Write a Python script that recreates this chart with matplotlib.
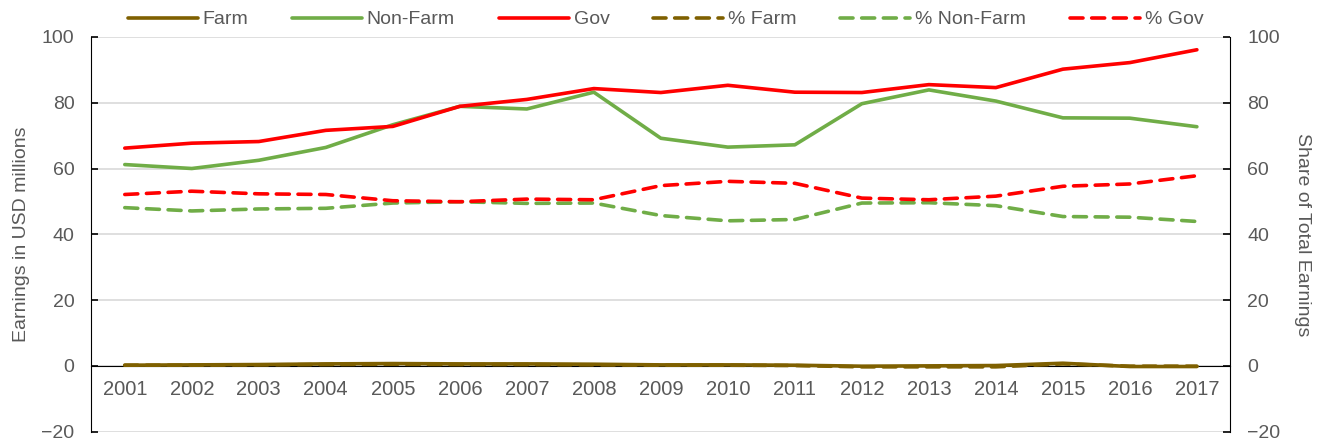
import numpy as np
import matplotlib.pyplot as plt

plt.rcParams['font.family'] = ['Liberation Sans', 'DejaVu Sans']

years = [str(y) for y in range(2001, 2018)]

# earnings, USD millions
farm = [0.2, 0.3, 0.4, 0.6, 0.7, 0.6, 0.6, 0.5, 0.3, 0.3, 0.2, -0.1, 0.0, 0.1, 0.8, -0.2, -0.2]
non_farm = [61.2, 60.0, 62.5, 66.4, 73.3, 78.9, 78.1, 83.2, 69.2, 66.5, 67.2, 79.7, 83.9, 80.5, 75.4, 75.3, 72.7]
gov = [66.2, 67.7, 68.2, 71.6, 72.8, 78.9, 81.0, 84.3, 83.1, 85.3, 83.2, 83.1, 85.5, 84.6, 90.2, 92.2, 96.1]

# share of total earnings, %
pct_farm = [0.2, 0.2, 0.3, 0.4, 0.5, 0.4, 0.4, 0.3, 0.2, 0.2, 0.1, -0.3, -0.3, -0.3, 0.6, -0.1, -0.1]
pct_non_farm = [48.1, 47.1, 47.7, 47.9, 49.5, 49.9, 49.4, 49.5, 45.7, 44.1, 44.5, 49.5, 49.6, 48.7, 45.4, 45.2, 43.9]
pct_gov = [52.1, 53.1, 52.3, 52.1, 50.2, 49.9, 50.7, 50.5, 54.8, 56.1, 55.5, 51.0, 50.5, 51.6, 54.6, 55.3, 57.8]

c_farm = '#7F6000'
c_nonfarm = '#70AD47'
c_gov = '#FF0000'
grey = '#595959'

fig = plt.figure(figsize=(13.23, 4.45), dpi=100)
ax = fig.add_axes([0.069, 0.03, 0.861, 0.887])
ax2 = ax.twinx()

x = np.arange(len(years))
lw = 2.6
dash = (0, (3.6, 2.4))
l1, = ax.plot(x, farm, color=c_farm, lw=lw, label='Farm', solid_capstyle='round', zorder=3)
l2, = ax.plot(x, non_farm, color=c_nonfarm, lw=lw, label='Non-Farm', solid_capstyle='round')
l3, = ax.plot(x, gov, color=c_gov, lw=lw, label='Gov', solid_capstyle='round')
l4, = ax2.plot(x, pct_farm, color=c_farm, lw=lw, ls=dash, dash_capstyle='round', label='% Farm')
l5, = ax2.plot(x, pct_non_farm, color=c_nonfarm, lw=lw, ls=dash, dash_capstyle='round', label='% Non-Farm')
l6, = ax2.plot(x, pct_gov, color=c_gov, lw=lw, ls=dash, dash_capstyle='round', label='% Gov')

for a in (ax, ax2):
    a.set_ylim(-20, 100)
    a.set_yticks(range(-20, 101, 20))
    a.set_xlim(-0.5, len(years) - 0.5)
    a.tick_params(axis='y', direction='in', length=5, width=1.2, labelsize=14,
                  labelcolor=grey, colors='black', pad=12)
    for s in a.spines.values():
        s.set_visible(False)

ax.tick_params(axis='y', labelcolor=grey)
ax2.tick_params(axis='y', labelcolor=grey)
ax.spines['left'].set_visible(True)
ax2.spines['right'].set_visible(True)
ax.spines['bottom'].set_visible(True)
ax.spines['bottom'].set_position(('data', 0))
ax.spines['bottom'].set_zorder(2)

ax.set_xticks(x)
ax.set_xticklabels(years)
ax.tick_params(axis='x', length=0, labelsize=14.5, labelcolor=grey, pad=10)
ax2.tick_params(axis='x', bottom=False, top=False, labelbottom=False, labeltop=False)

ax.grid(axis='y', color='#D9D9D9', lw=1.2)
ax.set_axisbelow(True)
ax2.patch.set_visible(False)

ax.set_ylabel('Earnings in USD millions', fontsize=14, color=grey, labelpad=8)
ax2.set_ylabel('Share of Total Earnings', fontsize=14, color=grey, rotation=270, labelpad=22)

fig.legend(handles=[l1, l2, l3, l4, l5, l6], loc='upper center', bbox_to_anchor=(0.503, 1.015),
           ncol=6, frameon=False, fontsize=14, handlelength=3.6, columnspacing=2.25,
           handletextpad=0.25, labelcolor=grey)

fig.savefig('out.png', dpi=100)
